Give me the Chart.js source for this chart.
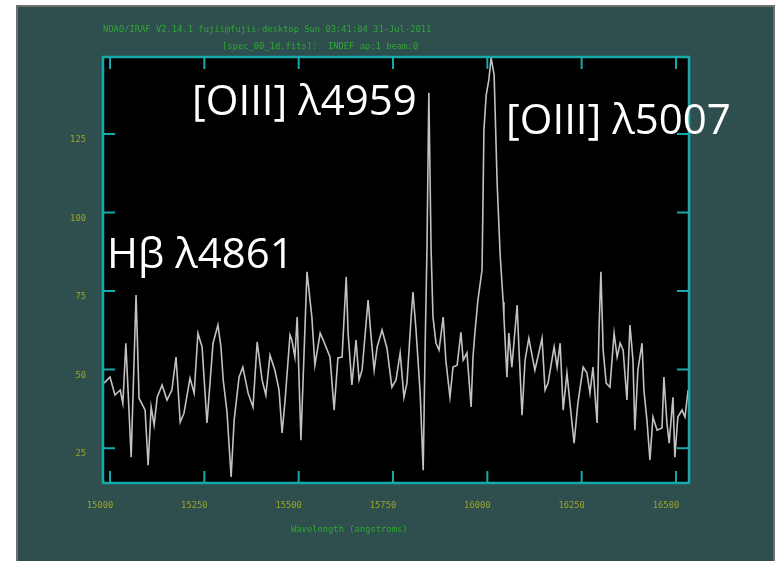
<!DOCTYPE html>
<html>
<head>
<meta charset="utf-8">
<script src="https://cdn.jsdelivr.net/npm/chart.js@4/dist/chart.umd.min.js"></script>
<style>
  html, body { margin: 0; padding: 0; background: #ffffff; }
  #wrap { width: 777px; height: 561px; position: relative; }
</style>
</head>
<body>
<div id="wrap"><canvas id="spec" width="777" height="561"></canvas></div>
<script>
// Extracted 1-D spectrum (observed wavelength in Angstroms, flux in counts)
const wavelength = [
  14984, 15000, 15013, 15027, 15034, 15042, 15056, 15069, 15077, 15093,
  15101, 15109, 15117, 15125, 15138, 15151, 15164, 15175, 15186, 15196,
  15212, 15223, 15233, 15244, 15257, 15273, 15286, 15294, 15300, 15310,
  15321, 15329, 15342, 15352, 15366, 15379, 15390, 15403, 15413, 15424,
  15437, 15448, 15456, 15464, 15477, 15482, 15490, 15496, 15506, 15522,
  15535, 15543, 15557, 15565, 15583, 15594, 15604, 15615, 15626, 15631,
  15641, 15652, 15660, 15668, 15681, 15684, 15692, 15700, 15708, 15721,
  15734, 15747, 15758, 15769, 15779, 15787, 15798, 15803, 15811, 15822,
  15830, 15835, 15840, 15845, 15851, 15856, 15864, 15872, 15883, 15890,
  15901, 15909, 15920, 15930, 15936, 15946, 15957, 15962, 15967, 15975,
  15986, 15991, 15997, 16004, 16010, 16018, 16026, 16034, 16042, 16044,
  16052, 16057, 16065, 16079, 16084, 16092, 16100, 16110, 16121, 16126,
  16134, 16145, 16153, 16161, 16177, 16185, 16193, 16201, 16211, 16219,
  16230, 16240, 16254, 16264, 16272, 16280, 16291, 16296, 16301, 16307,
  16315, 16325, 16336, 16344, 16352, 16360, 16370, 16378, 16386, 16391,
  16399, 16410, 16415, 16423, 16431, 16439, 16450, 16463, 16468, 16476,
  16482, 16492, 16497, 16505, 16516, 16524, 16532
];
const flux = [
  45.7, 47.6, 41.9, 43.5, 39.3, 58.4, 22.1, 73.7, 40.9, 37.1,
  19.6, 38.1, 32.3, 41.2, 45.1, 40.3, 43.5, 54.0, 33.3, 36.1,
  47.3, 42.5, 61.6, 57.2, 33.0, 58.4, 64.2, 57.2, 46.7, 36.5,
  15.8, 33.9, 47.6, 50.8, 42.5, 38.1, 58.8, 46.7, 41.9, 54.6,
  49.8, 43.5, 29.8, 40.3, 61.0, 59.4, 54.0, 66.7, 27.5, 81.1,
  66.7, 51.4, 61.6, 59.4, 54.0, 37.1, 53.7, 54.0, 79.5, 61.6,
  45.1, 59.4, 46.7, 49.8, 68.0, 72.1, 60.4, 49.8, 57.2, 62.6,
  56.8, 44.4, 46.7, 55.3, 41.2, 45.7, 66.7, 74.7, 62.6, 42.5,
  18.0, 56.2, 88.1, 138.1, 88.1, 66.7, 58.4, 56.2, 66.7, 53.0,
  41.2, 50.8, 51.4, 61.9, 53.0, 55.3, 38.1, 54.0, 61.6, 72.1,
  81.7, 126.3, 137.4, 142.2, 149.2, 143.8, 109.4, 86.5, 71.5, 66.7,
  47.6, 61.6, 50.8, 70.5, 56.2, 35.5, 53.0, 60.0, 53.0, 49.8,
  54.0, 60.0, 43.5, 45.7, 57.2, 50.8, 58.4, 37.1, 48.9, 39.3,
  26.6, 39.3, 50.8, 48.9, 42.5, 50.8, 33.0, 62.6, 81.1, 56.2,
  45.7, 44.4, 61.6, 54.0, 58.4, 56.2, 40.3, 64.2, 53.0, 30.7,
  49.8, 58.4, 43.5, 33.9, 21.2, 34.9, 30.7, 31.4, 47.6, 33.0,
  26.6, 41.2, 22.1, 34.9, 37.1, 34.9, 43.5
];

// Axis ranges and tick values
const xRange = [14981.4, 16534.5];
const yRange = [13.9, 149.5];
const xTickValues = [15000, 15250, 15500, 15750, 16000, 16250, 16500];
const yTickValues = [25, 50, 75, 100, 125];

// Header, axis title and emission-line annotations
const headerLines = [
  'NOAO/IRAF V2.14.1 fujii@fujii-desktop Sun 03:41:04 31-Jul-2011',
  '[spec_00_1d.fits]:  INDEF ap:1 beam:0'
];
const xTitle = 'Wavelength (angstroms)';
const lineLabels = ['[OIII] λ4959', '[OIII] λ5007', 'Hβ λ4861'];

const MONO = '8.8px "DejaVu Sans Mono", "Liberation Mono", monospace';
const GREEN = '#2fa834';
const OLIVE = '#9aa52c';
const CYAN = '#14a9aa';

const points = wavelength.map((w, i) => ({ x: w, y: flux[i] }));

const irafFrame = {
  id: 'irafFrame',
  beforeDraw(chart) {
    const ctx = chart.ctx;
    const a = chart.chartArea;
    ctx.save();
    ctx.fillStyle = '#ffffff';
    ctx.fillRect(0, 0, chart.width, chart.height);
    // dark slate window
    ctx.fillStyle = '#2f4e4e';
    ctx.fillRect(17, 6, 757, 555);
    ctx.strokeStyle = '#6b706f';
    ctx.lineWidth = 2;
    ctx.strokeRect(17, 6, 757, 560);
    // plot viewport
    ctx.fillStyle = '#000000';
    ctx.fillRect(a.left, a.top, a.right - a.left, a.bottom - a.top);
    ctx.restore();
  },
  afterDatasetsDraw(chart) {
    const ctx = chart.ctx;
    const a = chart.chartArea;
    const xs = chart.scales.x, ys = chart.scales.y;
    ctx.save();
    ctx.strokeStyle = CYAN;
    ctx.lineWidth = 2.5;
    ctx.strokeRect(a.left, a.top, a.right - a.left, a.bottom - a.top);
    ctx.lineWidth = 2;
    const len = 12;
    ctx.beginPath();
    xTickValues.forEach(v => {
      const px = xs.getPixelForValue(v);
      ctx.moveTo(px, a.bottom); ctx.lineTo(px, a.bottom - len);
      ctx.moveTo(px, a.top); ctx.lineTo(px, a.top + len);
    });
    yTickValues.forEach(v => {
      const py = ys.getPixelForValue(v);
      ctx.moveTo(a.left, py); ctx.lineTo(a.left + len, py);
      ctx.moveTo(a.right, py); ctx.lineTo(a.right - len, py);
    });
    ctx.stroke();
    ctx.restore();
  },
  afterDraw(chart) {
    const ctx = chart.ctx;
    ctx.save();
    ctx.font = MONO;
    ctx.fillStyle = GREEN;
    ctx.textBaseline = 'middle';
    ctx.textAlign = 'left';
    ctx.fillText(headerLines[0], 103, 30);
    ctx.fillText(headerLines[1], 222, 47);
    ctx.fillText(xTitle, 291, 530);
    // emission-line annotations
    ctx.fillStyle = '#ffffff';
    ctx.font = '42px "Open Sans", "Noto Sans", sans-serif';
    ctx.fillText(lineLabels[0], 192, 103);
    ctx.fillText(lineLabels[1], 506, 122);
    ctx.fillText(lineLabels[2], 107, 256);
    ctx.restore();
  }
};

new Chart(document.getElementById('spec'), {
  type: 'line',
  data: {
    datasets: [{
      data: points,
      borderColor: '#c2c2c2',
      borderWidth: 1.6,
      pointRadius: 0,
      tension: 0,
      fill: false
    }]
  },
  options: {
    responsive: false,
    animation: false,
    layout: { padding: { top: 57, right: 88, left: 0, bottom: 0 } },
    plugins: { legend: { display: false }, tooltip: { enabled: false }, title: { display: false } },
    scales: {
      x: {
        type: 'linear',
        min: xRange[0],
        max: xRange[1],
        afterBuildTicks: s => { s.ticks = xTickValues.map(v => ({ value: v })); },
        afterFit: s => { s.height = 78; },
        grid: { display: false, drawTicks: false },
        border: { display: false },
        ticks: {
          color: OLIVE,
          font: { family: '"DejaVu Sans Mono", monospace', size: 8.8 },
          padding: 17,
          labelOffset: -10,
          maxRotation: 0,
          autoSkip: false,
          callback: v => String(v)
        }
      },
      y: {
        type: 'linear',
        min: yRange[0],
        max: yRange[1],
        afterBuildTicks: s => { s.ticks = yTickValues.map(v => ({ value: v })); },
        afterFit: s => { s.width = 103; },
        grid: { display: false, drawTicks: false },
        border: { display: false },
        ticks: {
          color: OLIVE,
          font: { family: '"DejaVu Sans Mono", monospace', size: 8.8 },
          padding: 17,
          labelOffset: 6,
          autoSkip: false,
          callback: v => String(v)
        }
      }
    }
  },
  plugins: [irafFrame]
});
</script>
</body>
</html>
